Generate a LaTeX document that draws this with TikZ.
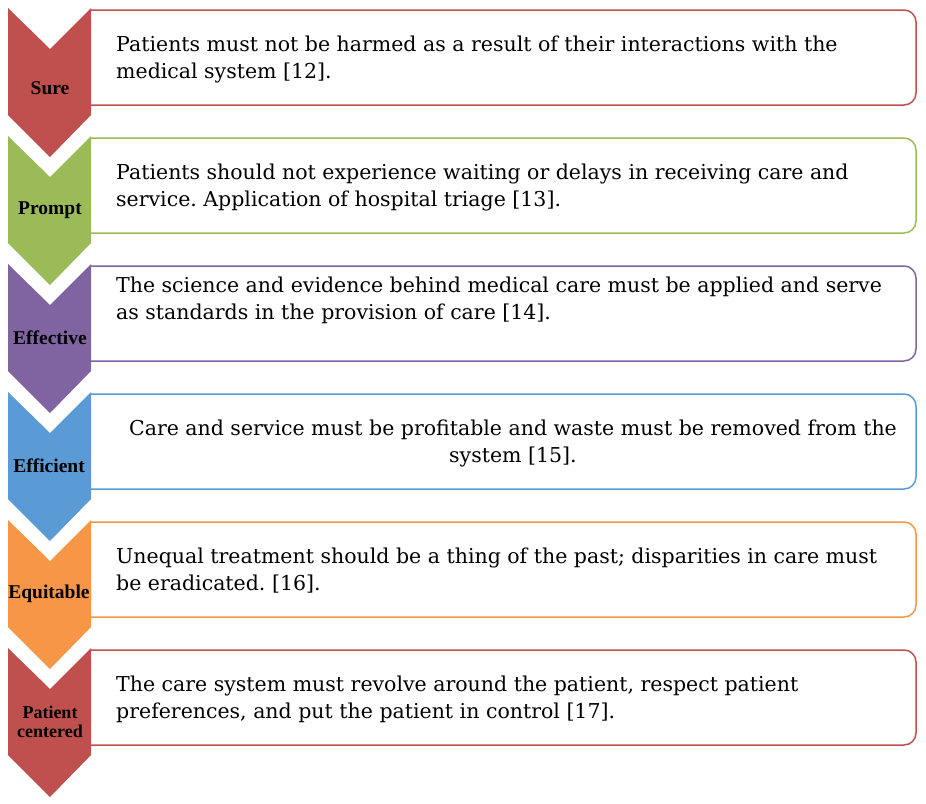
\documentclass[tikz,border=0pt]{standalone}
\usepackage{fontspec}
\setmainfont{DejaVu Serif}
\newfontfamily\lblfont{Liberation Serif}
\definecolor{cA}{HTML}{C0504D}
\definecolor{cB}{HTML}{9BBB59}
\definecolor{cC}{HTML}{8064A2}
\definecolor{cD}{HTML}{5B9BD5}
\definecolor{cE}{HTML}{F79646}
\begin{document}
\frenchspacing
\begin{tikzpicture}[x=1pt,y=-1pt,
  lbl/.style={font=\lblfont\bfseries\fontsize{19.5}{22}\selectfont,align=center,text=black,inner sep=0pt},
  txt/.style={font=\fontsize{20.5}{27}\selectfont,align=left,anchor=west,inner sep=0pt},
  ctxt/.style={font=\fontsize{20.5}{27}\selectfont,align=center,inner sep=0pt}]
\useasboundingbox (0,0) rectangle (926,803);
\foreach \i/\c in {0/cA,1/cB,2/cC,3/cD,4/cE,5/cA}{
  \pgfmathsetmacro\t{8+128*\i}
  \fill[\c] (8,\t) -- (50,\t+41) -- (91,\t) -- (91,\t+107) -- (50,\t+149) -- (8,\t+107) -- cycle;
  \draw[\c,line width=1.5pt,rounded corners=12pt] (91,\t+2) -- (916,\t+2) -- (916,\t+97) -- (91,\t+97);
}
\node[lbl] (l1) at (50,88) {Sure};
\node[lbl] (l2) at (50,210) {Prompt};
\node[lbl] (l3) at (50,338) {Effective};
\node[lbl] (l4) at (49,466) {Efficient};
\node[lbl] (l5) at (49,594) {Equitable};
\node[lbl,font=\lblfont\bfseries\fontsize{18}{19}\selectfont] (l6) at (50,722) {Patient\\centered};
\node[txt] (t1) at (116,59) {Patients must not be harmed as a result of their interactions with the\\medical system [12].};
\node[txt] (t2) at (116,187) {Patients should not experience waiting or delays in receiving care and\\service. Application of hospital triage [13].};
\node[txt] (t3) at (116,300) {The science and evidence behind medical care must be applied and serve\\as standards in the provision of care [14].};
\node[ctxt] (t4) at (513,443) {Care and service must be profitable and waste must be removed from the\\system [15].};
\node[txt] (t5) at (116,571) {Unequal treatment should be a thing of the past; disparities in care must\\be eradicated. [16].};
\node[txt] (t6) at (116,699) {The care system must revolve around the patient, respect patient\\preferences, and put the patient in control [17].};
\end{tikzpicture}
\end{document}
